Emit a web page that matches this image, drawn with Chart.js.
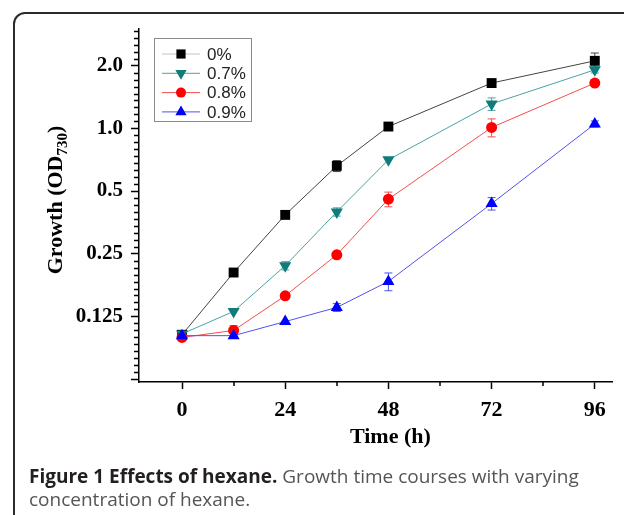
<!DOCTYPE html>
<html>
<head>
<meta charset="utf-8">
<style>
  html, body { margin: 0; padding: 0; background: #fff; }
  #wrap { position: relative; width: 624px; height: 515px; overflow: hidden; }
  #frame { position: absolute; left: 13px; top: 12px; width: 660px; height: 560px;
           border: 2px solid #2b2b2b; border-radius: 12px; box-sizing: border-box; }
  #chart { position: absolute; left: 0; top: 0; }
  #caption { position: absolute; left: 29px; top: 465px; width: 590px;
             font-family: "Open Sans"; font-size: 19px; line-height: 23px; color: #555; }
  #caption b { color: #231f20; font-weight: 700; }
</style>
<script src="https://cdn.jsdelivr.net/npm/chart.js@4.4.1/dist/chart.umd.min.js"></script>
</head>
<body>
<div id="wrap">
  <div id="frame"></div>
  <canvas id="chart" width="624" height="515"></canvas>
  <div id="caption"><b>Figure 1 Effects of hexane.</b> Growth time courses with varying concentration of hexane.</div>
</div>
<script>
// --- data ---
const hours = [0, 12, 24, 36, 48, 72, 96];
const seriesNames = ['0%', '0.7%', '0.8%', '0.9%'];
const od0  = [0.102, 0.203, 0.384, 0.660, 1.020, 1.650, 2.110];
const od07 = [0.103, 0.132, 0.219, 0.397, 0.706, 1.310, 1.910];
const od08 = [0.099, 0.107, 0.157, 0.247, 0.457, 1.010, 1.650];
const od09 = [0.101, 0.101, 0.118, 0.138, 0.184, 0.435, 1.050];
const err0  = [0.003, 0.006, 0.008, 0.040, 0.015, 0.030, 0.190];
const err07 = [0.003, 0.004, 0.010, 0.018, 0.015, 0.090, 0.065];
const err08 = [0.003, 0.006, 0.005, 0.006, 0.037, 0.100, 0.030];
const err09 = [0.003, 0.003, 0.003, 0.006, 0.018, 0.030, 0.035];

const xTicks = [0, 24, 48, 72, 96];
const xMinorTicks = [12, 36, 60, 84];
const yTicks = [0.0625, 0.125, 0.25, 0.5, 1, 2];
const yTickLabels = ['', '0.125', '0.25', '0.5', '1.0', '2.0'];

const values = [od0, od07, od08, od09];
const errors = [err0, err07, err08, err09];

// --- styling ---
const markerColors = ['#000000', '#0f7b7b', '#ff0000', '#0000ff'];
const lineColors = ['#444444', '#4aa3a3', '#f05050', '#5252ee'];
const legendLineColors = ['#c4c4c4', '#4aa3a3', '#f05050', '#5252ee'];
const pointStyles = ['rect', 'triangle', 'circle', 'triangle'];
const pointRotations = [0, 180, 0, 0];
const pointRadii = [7, 7, 5.5, 7];

const serif = 'Liberation Serif';

const datasets = values.map((vals, s) => ({
  label: seriesNames[s],
  data: hours.map((h, i) => ({ x: h, y: vals[i] })),
  errs: errors[s],
  borderColor: lineColors[s],
  borderWidth: 1,
  pointStyle: pointStyles[s],
  rotation: pointRotations[s],
  pointRadius: pointRadii[s],
  pointHoverRadius: pointRadii[s],
  pointBackgroundColor: markerColors[s],
  pointBorderColor: markerColors[s],
  pointBorderWidth: 0,
  order: 4 - s,
  tension: 0
}));

const errorBars = {
  id: 'errorBars',
  beforeDatasetDraw(chart, args) {
    const ds = chart.data.datasets[args.index];
    const y = chart.scales.y;
    const ctx = chart.ctx;
    ctx.save();
    ctx.strokeStyle = lineColors[args.index];
    ctx.lineWidth = 1;
    args.meta.data.forEach((pt, i) => {
      const v = ds.data[i].y, e = ds.errs[i];
      const top = y.getPixelForValue(v + e);
      const bot = y.getPixelForValue(v - e);
      if (bot - top < 6) return;
      ctx.beginPath();
      ctx.moveTo(pt.x, top); ctx.lineTo(pt.x, bot);
      ctx.moveTo(pt.x - 4, top); ctx.lineTo(pt.x + 4, top);
      ctx.moveTo(pt.x - 4, bot); ctx.lineTo(pt.x + 4, bot);
      ctx.stroke();
    });
    ctx.restore();
  }
};

const extras = {
  id: 'extras',
  afterDraw(chart) {
    const ctx = chart.ctx;
    const xs = chart.scales.x, ys = chart.scales.y;
    const area = chart.chartArea;
    ctx.save();
    // minor ticks
    ctx.strokeStyle = '#000';
    ctx.lineWidth = 1.5;
    ctx.beginPath();
    xMinorTicks.forEach(v => {
      const px = Math.round(xs.getPixelForValue(v));
      ctx.moveTo(px, area.bottom); ctx.lineTo(px, area.bottom + 4);
    });
    yTicks.forEach(base => {
      for (let k = 1; k < 9; k++) {
        const v = base * Math.pow(2, k / 9);
        if (v > ys.max) break;
        const py = Math.round(ys.getPixelForValue(v)) + 0.5;
        ctx.moveTo(area.left, py); ctx.lineTo(area.left - 5, py);
      }
    });
    ctx.stroke();

    // axis titles
    ctx.fillStyle = '#000';
    ctx.font = `bold 22px "${serif}"`;
    ctx.textAlign = 'center';
    ctx.textBaseline = 'alphabetic';
    ctx.fillText('Time (h)', xs.getPixelForValue(48) + 2, 443);

    ctx.save();
    ctx.translate(62, 200);
    ctx.rotate(-Math.PI / 2);
    ctx.textAlign = 'left';
    const main = 'Growth (OD', sub = '730', end = ')';
    ctx.font = `bold 22px "${serif}"`;
    const w1 = ctx.measureText(main).width, w3 = ctx.measureText(end).width;
    ctx.font = `bold 15px "${serif}"`;
    const w2 = ctx.measureText(sub).width;
    let x0 = -(w1 + w2 + w3) / 2;
    ctx.font = `bold 22px "${serif}"`;
    ctx.fillText(main, x0, 0);
    ctx.font = `bold 15px "${serif}"`;
    ctx.fillText(sub, x0 + w1, 5);
    ctx.font = `bold 22px "${serif}"`;
    ctx.fillText(end, x0 + w1 + w2, 0);
    ctx.restore();

    // legend
    const lx = area.left + 15, ly = area.top + 9;
    ctx.strokeStyle = '#8a8a8a';
    ctx.lineWidth = 1;
    ctx.strokeRect(lx + 0.5, ly + 0.5, 97, 83);
    ctx.font = '17px "Liberation Sans"';
    ctx.textAlign = 'left';
    ctx.textBaseline = 'middle';
    seriesNames.forEach((name, s) => {
      const ry = ly + 16 + s * 19.3;
      ctx.strokeStyle = legendLineColors[s];
      ctx.lineWidth = 1;
      ctx.beginPath();
      ctx.moveTo(lx + 8, ry); ctx.lineTo(lx + 46, ry);
      ctx.stroke();
      ctx.fillStyle = markerColors[s];
      Chart.helpers.drawPoint(ctx, {
        pointStyle: pointStyles[s], rotation: pointRotations[s],
        radius: pointRadii[s] - 0.5, borderWidth: 0
      }, lx + 27, ry);
      ctx.fillStyle = '#222';
      ctx.fillText(name, lx + 53, ry + 1);
    });
    ctx.restore();
  }
};

new Chart(document.getElementById('chart'), {
  type: 'line',
  data: { datasets },
  plugins: [errorBars, extras],
  options: {
    responsive: false,
    animation: false,
    devicePixelRatio: 1,
    layout: { padding: { left: 0, top: 29, right: 12, bottom: 0 } },
    plugins: { legend: { display: false }, tooltip: { enabled: false } },
    scales: {
      x: {
        type: 'linear', min: -10, max: 100,
        afterBuildTicks: s => { s.ticks = xTicks.map(v => ({ value: v })); },
        afterFit: s => { s.height = 133; },
        ticks: { font: { family: serif, size: 22, weight: 'bold' }, color: '#000', padding: 8 },
        grid: { drawOnChartArea: false, drawTicks: true, tickLength: 7, tickColor: '#000', tickWidth: 1.5 },
        border: { display: true, color: '#000', width: 1.5 }
      },
      y: {
        type: 'logarithmic', min: 0.0605, max: 3.0,
        afterBuildTicks: s => { s.ticks = yTicks.map(v => ({ value: v })); },
        afterFit: s => { s.width = 139; },
        ticks: {
          callback: (v, i) => yTickLabels[i],
          font: { family: serif, size: 21, weight: 'bold' }, color: '#000', padding: 8, autoSkip: false
        },
        grid: { drawOnChartArea: false, drawTicks: true, tickLength: 8, tickColor: '#000', tickWidth: 1.5 },
        border: { display: true, color: '#000', width: 1.5 }
      }
    }
  }
});
</script>
</body>
</html>
